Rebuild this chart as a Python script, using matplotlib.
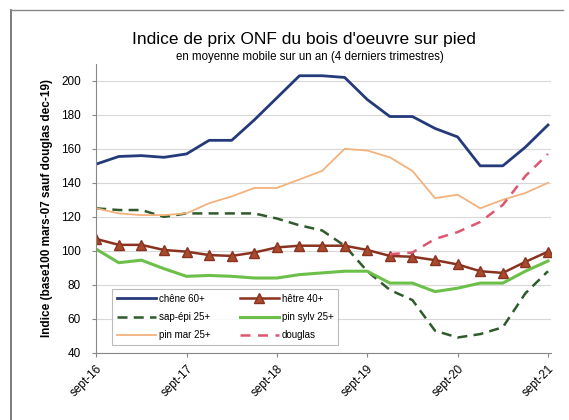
import matplotlib.pyplot as plt
import numpy as np
from matplotlib.lines import Line2D

plt.rcParams['font.family'] = ['Liberation Sans', 'DejaVu Sans']

# quarterly points, sept-16 .. sept-21
quarters = list(range(21))
tick_pos = [0, 4, 8, 12, 16, 20]
tick_labels = ['sept-16', 'sept-17', 'sept-18', 'sept-19', 'sept-20', 'sept-21']

chene = [151, 155.5, 156, 155, 157, 165, 165, 177, 190, 203, 203, 202,
         189, 179, 179, 172, 167, 150, 150, 161, 174]
hetre = [107, 103.5, 103.5, 100.5, 99.5, 97.5, 97, 99, 102, 103, 103, 103,
         100.5, 97, 96.5, 94.5, 92, 88, 87, 93.5, 99.5]
sap_epi = [125, 124, 124, 120, 122, 122, 122, 122, 119, 115, 112, 103,
           88, 77, 71, 53, 49, 51, 55, 75, 88]
pin_sylv = [101, 93, 94.5, 89.5, 85, 85.5, 85, 84, 84, 86, 87, 88,
            88, 81, 81, 76, 78, 81, 81, 88, 94]
pin_mar = [125, 122, 121, 121, 122, 128, 132, 137, 137, 142, 147, 160,
           159, 155, 147, 131, 133, 125, 130, 134, 140]
douglas = [np.nan] * 13 + [98, 99, 107, 111, 117, 127, 144, 157]

fig = plt.figure(figsize=(5.69, 4.2), dpi=100)
ax = fig.add_axes([0.169, 0.16, 0.80, 0.688])

# chart frame (scan border)
fig.add_artist(Line2D([0.019, 0.019], [0.0, 0.976], color='#666666', lw=1.2))
fig.add_artist(Line2D([0.019, 0.99], [0.976, 0.976], color='#888888', lw=1.0))

ax.plot(quarters, chene, color='#253a7a', lw=2.0, label='chêne 60+')
ax.plot(quarters, sap_epi, color='#2e5a2c', lw=1.8, ls=(0, (4, 2.5)), label='sap-épi 25+')
ax.plot(quarters, pin_mar, color='#f3b27c', lw=1.3, label='pin mar 25+')
ax.plot(quarters, hetre, color='#8a3220', lw=1.8, marker='^', ms=6.5,
        markerfacecolor='#a84a2c', markeredgecolor='#8a3220', label='hêtre 40+')
ax.plot(quarters, pin_sylv, color='#6cc04a', lw=2.2, label='pin sylv 25+')
ax.plot(quarters, douglas, color='#e05570', lw=1.8, ls=(0, (4, 3)), label='douglas')

ax.set_xlim(0, 20.15)
ax.set_ylim(40, 210)
ax.set_yticks(range(40, 201, 20))
ax.set_xticks(tick_pos)
ax.set_xticklabels(tick_labels, rotation=45, ha='right', rotation_mode='anchor', fontsize=8.5)
ax.tick_params(axis='y', labelsize=8.5, length=3, color='#888888', pad=8)
ax.tick_params(axis='x', length=3, color='#888888', pad=4)
ax.yaxis.grid(True, color='#d8d8d8', lw=0.8)
ax.set_axisbelow(True)
for s in ['top', 'right']:
    ax.spines[s].set_visible(False)
ax.spines['left'].set_color('#888888')
ax.spines['bottom'].set_color('#888888')

ax.set_ylabel('Indice (base100 mars-07 sauf douglas dec-19)', fontsize=8.5, fontweight='bold', labelpad=6)

leg = ax.legend(ncol=2, loc='lower left', bbox_to_anchor=(0.025, 0.01), fontsize=7,
                frameon=True, fancybox=False, edgecolor='#aaaaaa', handlelength=4.0,
                handletextpad=0.3, columnspacing=3.0, labelspacing=0.85, borderpad=0.5)
leg.get_frame().set_linewidth(0.8)

fig.text(0.535, 0.895, "Indice de prix ONF du bois d'oeuvre sur pied", ha='center', fontsize=12.5)
fig.text(0.545, 0.857, 'en moyenne mobile sur un an (4 derniers trimestres)', ha='center', fontsize=8.3)

fig.savefig('out.png', dpi=100)
